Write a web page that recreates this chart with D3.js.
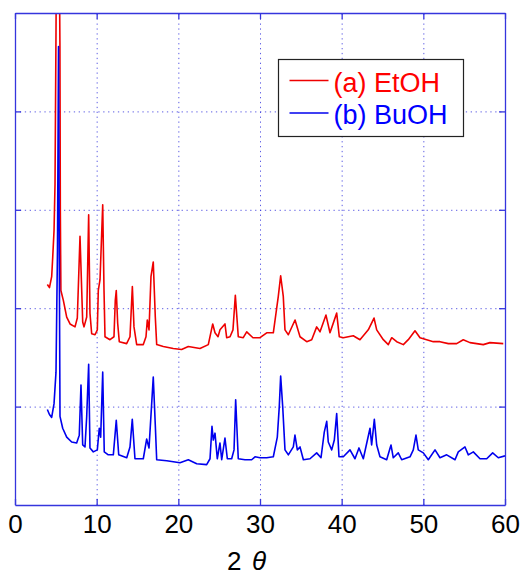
<!DOCTYPE html>
<html>
<head>
<meta charset="utf-8">
<script src="https://cdn.jsdelivr.net/npm/d3@7"></script>
<style>
  body { margin: 0; background: #fff; }
  svg { display: block; font-family: Arial, "Liberation Sans", sans-serif; }
</style>
</head>
<body>
<div id="chart"></div>
<script>
// x ticks (2 theta, degrees) and hidden y grid levels
var xTicks = [0, 10, 20, 30, 40, 50, 60];
var yTicks = [100, 200, 300, 400];
var seriesNames = ["(a) EtOH", "(b) BuOH"];

// (a) EtOH pattern: [2theta, intensity]
var etoh = [
  [3.96, 224], [4.22, 221], [4.49, 232], [4.62, 252], [4.78, 279], [4.90, 326],
  [5.02, 480], [5.10, 600], [5.35, 640], [5.50, 470], [5.55, 300], [5.62, 218],
  [5.92, 208], [6.33, 191], [6.74, 184], [7.35, 181], [7.63, 190], [7.96, 273],
  [8.29, 186], [8.45, 181], [8.78, 191], [9.02, 295], [9.18, 195], [9.39, 174],
  [9.80, 173], [10.08, 178], [10.20, 218], [10.41, 229], [10.74, 305], [10.90, 218],
  [11.02, 171], [11.63, 168], [12.12, 171], [12.28, 208], [12.40, 218], [12.57, 185],
  [12.77, 166], [13.67, 164], [14.08, 171], [14.37, 222], [14.57, 181], [14.90, 163],
  [15.71, 163], [16.04, 171], [16.20, 188], [16.41, 178], [16.65, 232], [16.93, 247],
  [17.18, 191], [17.35, 163], [18.16, 161], [19.38, 159], [20.40, 158], [21.22, 161],
  [22.65, 159], [23.67, 163], [24.21, 184], [24.49, 175], [24.86, 171], [25.10, 178],
  [25.71, 184], [25.92, 170], [26.33, 171], [26.69, 178], [26.98, 213], [27.34, 171],
  [27.95, 170], [28.37, 176], [29.14, 170], [30.00, 170], [30.82, 175], [31.63, 175],
  [32.24, 212], [32.53, 233], [32.85, 212], [33.06, 178], [33.47, 173], [34.29, 188],
  [34.90, 171], [35.72, 166], [36.33, 168], [36.94, 181], [37.35, 176], [38.08, 193],
  [38.57, 175], [39.39, 195], [39.71, 171], [40.20, 170], [41.42, 172], [42.24, 168],
  [43.26, 178], [43.96, 190], [44.29, 178], [45.10, 168], [45.71, 163], [46.13, 170],
  [46.74, 166], [47.55, 163], [48.16, 168], [48.98, 177], [49.59, 170], [50.41, 168],
  [51.22, 166], [52.04, 166], [53.06, 164], [54.08, 164], [54.89, 168], [55.71, 165],
  [57.34, 163], [58.16, 165], [59.79, 164]
];

// (b) BuOH pattern: [2theta, intensity]
var buoh = [
  [3.96, 97], [4.22, 92], [4.49, 89], [4.78, 103], [5.02, 135], [5.20, 258],
  [5.33, 466], [5.42, 259], [5.51, 90], [5.84, 78], [6.33, 69], [6.94, 64],
  [7.55, 63], [7.87, 71], [8.08, 122], [8.29, 61], [8.57, 59], [8.78, 90],
  [9.02, 143], [9.18, 58], [9.59, 54], [10.08, 56], [10.32, 78], [10.49, 69],
  [10.74, 135], [10.93, 54], [11.42, 51], [12.04, 51], [12.40, 86], [12.70, 51],
  [13.68, 48], [14.08, 59], [14.36, 87], [14.69, 47], [15.71, 47], [16.12, 67],
  [16.41, 58], [16.93, 130], [17.18, 81], [17.35, 46], [18.58, 45], [20.20, 43],
  [21.22, 46], [22.25, 42], [23.47, 41], [23.88, 47], [24.12, 80], [24.28, 66],
  [24.49, 73], [24.77, 47], [25.10, 63], [25.31, 46], [25.71, 68], [26.00, 47],
  [26.53, 47], [26.82, 56], [27.02, 107], [27.34, 47], [28.16, 46], [28.98, 46],
  [29.39, 49], [30.00, 48], [30.82, 48], [31.63, 49], [32.12, 69], [32.36, 100],
  [32.53, 131], [32.78, 100], [33.06, 56], [33.47, 51], [34.08, 59], [34.28, 71],
  [34.57, 56], [34.90, 59], [35.31, 46], [36.12, 47], [36.94, 53], [37.47, 48],
  [37.87, 74], [38.17, 85], [38.36, 64], [38.78, 56], [39.10, 66], [39.39, 93],
  [39.67, 49], [40.20, 49], [41.02, 56], [41.63, 47], [42.12, 58], [42.65, 47],
  [43.47, 78], [43.67, 61], [44.00, 87], [44.29, 61], [44.69, 49], [45.51, 46],
  [46.04, 61], [46.32, 48], [46.93, 53], [47.35, 46], [48.37, 49], [48.77, 56],
  [49.10, 71], [49.38, 56], [50.00, 53], [50.61, 46], [51.43, 56], [52.04, 48],
  [52.86, 51], [53.88, 46], [54.28, 54], [55.10, 59], [55.51, 51], [56.12, 54],
  [56.94, 47], [57.76, 47], [58.49, 53], [59.18, 48], [60.00, 50]
];

var colors = ["#ee0000", "#0000ee"];
var axisColor = "#3535dd";

var margin = {top: 13, right: 17, bottom: 70, left: 15},
    width = 522 - margin.left - margin.right,
    height = 575 - margin.top - margin.bottom;

var svg = d3.select("#chart").append("svg")
    .attr("width", 522)
    .attr("height", 575)
    .append("g")
    .attr("transform", "translate(" + margin.left + "," + margin.top + ")");

var x = d3.scaleLinear().domain([0, 60]).range([0, width]);
var y = d3.scaleLinear().domain([0, 500]).range([height, 0]);

svg.append("defs").append("clipPath")
    .attr("id", "plotclip")
    .append("rect")
    .attr("width", width)
    .attr("height", height);

// dotted grid
svg.append("g")
    .attr("class", "grid")
    .attr("transform", "translate(0," + height + ")")
    .call(d3.axisBottom(x).tickValues(xTicks.slice(1, -1)).tickSize(-height).tickFormat(""));
svg.append("g")
    .attr("class", "grid")
    .call(d3.axisLeft(y).tickValues(yTicks).tickSize(-width).tickFormat(""));
svg.selectAll(".grid .domain").remove();
svg.selectAll(".grid line")
    .attr("stroke", axisColor)
    .attr("stroke-opacity", 0.8)
    .attr("stroke-dasharray", "1.3,3.6");

// patterns
var line = d3.line()
    .x(function(d) { return x(d[0]); })
    .y(function(d) { return y(d[1]); });

var plot = svg.append("g").attr("clip-path", "url(#plotclip)");
[etoh, buoh].forEach(function(s, i) {
    plot.append("path")
        .datum(s)
        .attr("fill", "none")
        .attr("stroke", colors[i])
        .attr("stroke-width", 1.6)
        .attr("stroke-linejoin", "round")
        .attr("d", line);
});

// axes box with inward ticks
var axBottom = svg.append("g")
    .attr("transform", "translate(0," + height + ")")
    .call(d3.axisBottom(x).tickValues(xTicks).tickSizeInner(-6).tickSizeOuter(0).tickPadding(10).tickFormat(d3.format("d")));
var axTop = svg.append("g")
    .call(d3.axisTop(x).tickValues(xTicks).tickSizeInner(-6).tickSizeOuter(0).tickFormat(""));
var axLeft = svg.append("g")
    .call(d3.axisLeft(y).tickValues(yTicks).tickSizeInner(-6).tickSizeOuter(0).tickFormat(""));
var axRight = svg.append("g")
    .attr("transform", "translate(" + width + ",0)")
    .call(d3.axisRight(y).tickValues(yTicks).tickSizeInner(-6).tickSizeOuter(0).tickFormat(""));

[axBottom, axTop, axLeft, axRight].forEach(function(g) {
    g.selectAll(".domain").attr("stroke", axisColor).attr("stroke-width", 1.3);
    g.selectAll(".tick line").attr("stroke", axisColor).attr("stroke-width", 1.3);
});
axBottom.selectAll("text")
    .attr("fill", "#000")
    .style("font-size", "26px")
    .style("font-family", "Arial, 'Liberation Sans', sans-serif");

// x label: 2 theta
var xlab = svg.append("text")
    .attr("y", height + 65)
    .style("font-size", "26px")
    .attr("fill", "#000");
xlab.append("tspan").attr("x", 227 - margin.left).text("2");
xlab.append("tspan").attr("x", 252 - margin.left).style("font-style", "italic").text("\u03b8");

// legend
var legend = svg.append("g")
    .attr("transform", "translate(" + (278.5 - margin.left) + "," + (59.5 - margin.top) + ")");
legend.append("rect")
    .attr("width", 185)
    .attr("height", 77)
    .attr("fill", "#fff")
    .attr("stroke", "#222")
    .attr("stroke-width", 1.2);
seriesNames.forEach(function(name, i) {
    var ly = 21 + i * 32.5;
    legend.append("line")
        .attr("x1", 11).attr("x2", 50)
        .attr("y1", ly).attr("y2", ly)
        .attr("stroke", colors[i])
        .attr("stroke-width", 1.3);
    legend.append("text")
        .attr("x", 55)
        .attr("y", ly + 11)
        .attr("fill", i === 0 ? "#ff0000" : "#0000ff")
        .style("font-size", "27px")
        .text(name);
});
</script>
</body>
</html>
